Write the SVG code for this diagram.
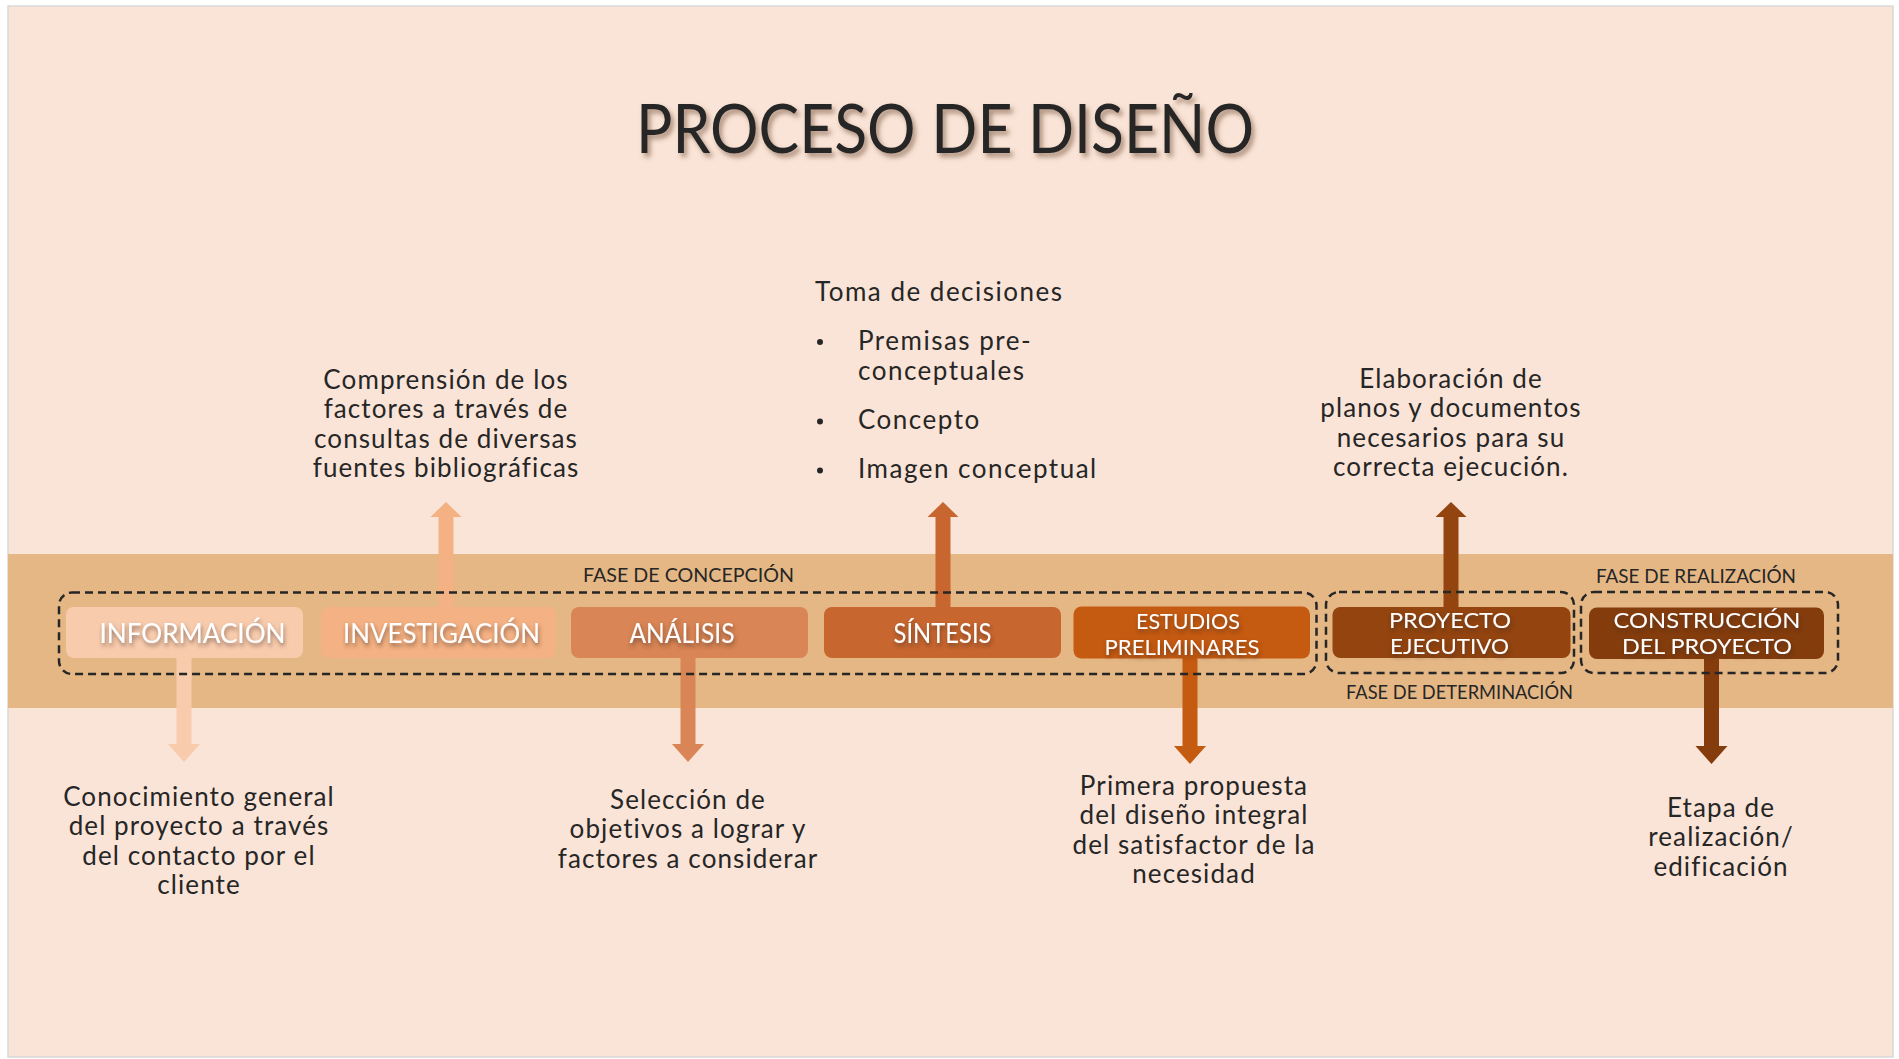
<svg xmlns="http://www.w3.org/2000/svg" width="1899" height="1059" viewBox="0 0 1899 1059">
<defs>
<filter id="tshadow" x="-10%" y="-30%" width="120%" height="180%">
<feDropShadow dx="3" dy="4" stdDeviation="2.5" flood-color="#6b4a33" flood-opacity="0.55"/>
</filter>
<filter id="lshadow" x="-10%" y="-40%" width="120%" height="200%">
<feDropShadow dx="1" dy="3" stdDeviation="2" flood-color="#3a2a20" flood-opacity="0.55"/>
</filter>
</defs>
<style>
text{font-family:Lato,"Liberation Sans",sans-serif;fill:#262626}
.title{font-size:68px}
.body{font-size:26px;letter-spacing:1.1px;text-anchor:middle}
.toma{font-size:26px;letter-spacing:1.5px}
.lbl{font-size:27px;fill:#ffffff;text-anchor:middle}
.lbl2{font-size:21.5px;fill:#ffffff;text-anchor:middle}
.phase{font-size:19px}
.dash{fill:none;stroke:#262626;stroke-width:2.5;stroke-dasharray:8 5}
.box{stroke:none}
</style>
<rect x="0" y="0" width="1899" height="1059" fill="#ffffff"/>
<rect x="8" y="6" width="1885" height="1051" fill="#FAE4D7" stroke="#d9d9d9" stroke-width="1.5"/>
<rect x="8" y="554" width="1885" height="154" fill="#E5B785"/>

<g id="title">
<text class="title" x="636" y="153" textLength="618" lengthAdjust="spacingAndGlyphs" filter="url(#tshadow)">PROCESO DE DISEÑO</text>
</g>

<g id="connectors">
<polygon fill="#F8CBAD" points="176.5,658 176.5,744 168,744 184,762 200,744 191.5,744 191.5,658"/>
<polygon fill="#F4B183" points="438.5,607 438.5,517 430.5,517 446,502 461.5,517 453.5,517 453.5,607"/>
<polygon fill="#D98555" points="680.5,658 680.5,744 672,744 688,762 704,744 695.5,744 695.5,658"/>
<polygon fill="#C8662F" points="935.5,607 935.5,517 927.5,517 943,502 958.5,517 950.5,517 950.5,607"/>
<polygon fill="#C55A11" points="1182.5,658 1182.5,746 1174,746 1190,764 1206,746 1197.5,746 1197.5,658"/>
<polygon fill="#93440F" points="1443.5,607 1443.5,517 1435.5,517 1451,502 1466.5,517 1458.5,517 1458.5,607"/>
<polygon fill="#843C0C" points="1704,658 1704,746 1695.5,746 1711.5,764 1727.5,746 1719,746 1719,658"/>
</g>

<g id="phases">
<rect class="dash" x="59" y="592.5" width="1257.5" height="81.5" rx="13"/>
<rect class="dash" x="1326" y="592" width="248" height="81" rx="13"/>
<rect class="dash" x="1581" y="592" width="257" height="81" rx="13"/>
<text class="phase" x="583" y="582" textLength="211" lengthAdjust="spacingAndGlyphs">FASE DE CONCEPCIÓN</text>
<text class="phase" x="1596" y="583" textLength="200" lengthAdjust="spacingAndGlyphs">FASE DE REALIZACIÓN</text>
<text class="phase" x="1346" y="699" textLength="227" lengthAdjust="spacingAndGlyphs">FASE DE DETERMINACIÓN</text>
</g>

<g id="informacion">
<rect class="box" x="66" y="607" width="237" height="51" rx="8" fill="#F8CBAD"/>
<text class="lbl" x="192.5" y="643" textLength="186" lengthAdjust="spacingAndGlyphs" filter="url(#lshadow)">INFORMACIÓN</text>
</g>
<g id="investigacion">
<rect class="box" x="321" y="607" width="235" height="51" rx="8" fill="#F4B183"/>
<text class="lbl" x="441.5" y="643" textLength="197" lengthAdjust="spacingAndGlyphs" filter="url(#lshadow)">INVESTIGACIÓN</text>
</g>
<g id="analisis">
<rect class="box" x="571" y="607" width="237" height="51" rx="8" fill="#D98555"/>
<text class="lbl" x="682" y="643" textLength="105" lengthAdjust="spacingAndGlyphs" filter="url(#lshadow)">ANÁLISIS</text>
</g>
<g id="sintesis">
<rect class="box" x="824" y="607" width="237" height="51" rx="8" fill="#C8662F"/>
<text class="lbl" x="942.5" y="643" textLength="98" lengthAdjust="spacingAndGlyphs" filter="url(#lshadow)">SÍNTESIS</text>
</g>
<g id="estudios">
<rect class="box" x="1073.5" y="606.5" width="236.5" height="52" rx="8" fill="#C55A11"/>
<text class="lbl2" x="1188" y="628.5" textLength="104" lengthAdjust="spacingAndGlyphs" filter="url(#lshadow)">ESTUDIOS</text>
<text class="lbl2" x="1182" y="654.5" textLength="155" lengthAdjust="spacingAndGlyphs" filter="url(#lshadow)">PRELIMINARES</text>
</g>
<g id="proyecto">
<rect class="box" x="1332.5" y="607" width="238" height="51" rx="8" fill="#93440F"/>
<text class="lbl2" x="1450" y="627.5" textLength="122" lengthAdjust="spacingAndGlyphs" filter="url(#lshadow)">PROYECTO</text>
<text class="lbl2" x="1449.5" y="653.5" textLength="119" lengthAdjust="spacingAndGlyphs" filter="url(#lshadow)">EJECUTIVO</text>
</g>
<g id="construccion">
<rect class="box" x="1589" y="607.5" width="235" height="51.5" rx="8" fill="#843C0C"/>
<text class="lbl2" x="1707" y="627.5" textLength="187" lengthAdjust="spacingAndGlyphs" filter="url(#lshadow)">CONSTRUCCIÓN</text>
<text class="lbl2" x="1707" y="653.5" textLength="170" lengthAdjust="spacingAndGlyphs" filter="url(#lshadow)">DEL PROYECTO</text>
</g>

<g id="desc-informacion">
<text class="body" x="199" y="806">Conocimiento general</text>
<text class="body" x="199" y="835.4">del proyecto a través</text>
<text class="body" x="199" y="864.8">del contacto por el</text>
<text class="body" x="199" y="894.2">cliente</text>
</g>
<g id="desc-investigacion">
<text class="body" x="446" y="389">Comprensión de los</text>
<text class="body" x="446" y="418.4">factores a través de</text>
<text class="body" x="446" y="447.8">consultas de diversas</text>
<text class="body" x="446" y="477.2">fuentes bibliográficas</text>
</g>
<g id="desc-analisis">
<text class="body" x="688" y="809">Selección de</text>
<text class="body" x="688" y="838.4">objetivos a lograr y</text>
<text class="body" x="688" y="867.8">factores a considerar</text>
</g>
<g id="desc-sintesis">
<text class="toma" x="815" y="300.7">Toma de decisiones</text>
<circle cx="820" cy="342" r="3" fill="#262626"/>
<text class="toma" x="858" y="350">Premisas pre-</text>
<text class="toma" x="858" y="379.5">conceptuales</text>
<circle cx="820" cy="421.5" r="3" fill="#262626"/>
<text class="toma" x="858" y="429.3">Concepto</text>
<circle cx="820" cy="470.5" r="3" fill="#262626"/>
<text class="toma" x="858" y="478.3">Imagen conceptual</text>
</g>
<g id="desc-estudios">
<text class="body" x="1194" y="795">Primera propuesta</text>
<text class="body" x="1194" y="824.4">del diseño integral</text>
<text class="body" x="1194" y="853.8">del satisfactor de la</text>
<text class="body" x="1194" y="883.2">necesidad</text>
</g>
<g id="desc-proyecto">
<text class="body" x="1451" y="388">Elaboración de</text>
<text class="body" x="1451" y="417.4">planos y documentos</text>
<text class="body" x="1451" y="446.8">necesarios para su</text>
<text class="body" x="1451" y="476.2">correcta ejecución.</text>
</g>
<g id="desc-construccion">
<text class="body" x="1721" y="817">Etapa de</text>
<text class="body" x="1721" y="846.4">realización/</text>
<text class="body" x="1721" y="875.8">edificación</text>
</g>
</svg>
